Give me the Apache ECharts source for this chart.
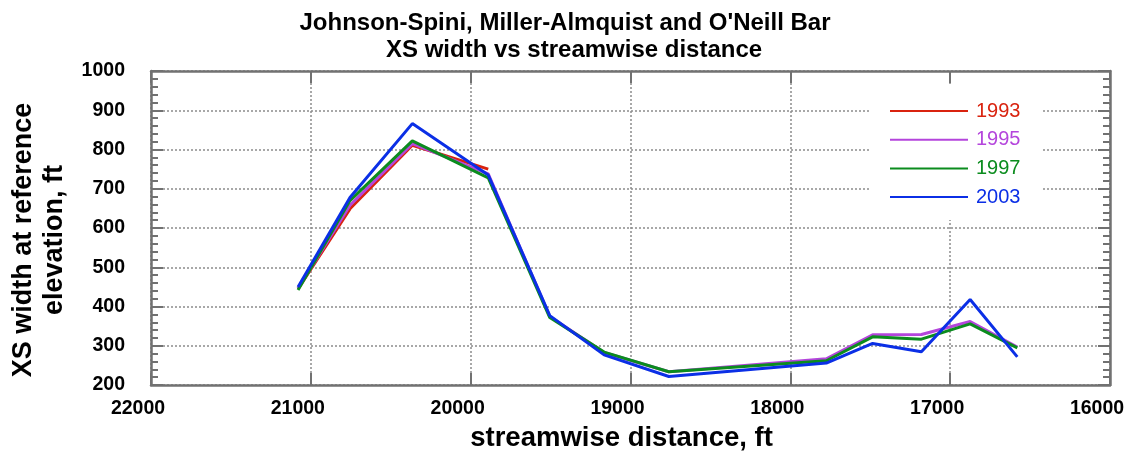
<!DOCTYPE html>
<html>
<head>
<meta charset="utf-8">
<title>XS width vs streamwise distance</title>
<script src="https://cdn.jsdelivr.net/npm/echarts@6/dist/echarts.min.js"></script>
<style>
  html, body { margin: 0; padding: 0; background: #fff; }
  #chart { width: 1130px; height: 457px; }
</style>
</head>
<body>
<div id="chart"></div>
<script>
// Cross-section stations (streamwise distance, ft)
const stations = [21080, 20755, 20365, 19890, 19505, 19165, 18760, 17775, 17485, 17180, 16875, 16580];

// XS width at reference elevation, ft, per survey year
const width1993 = [445, 649, 811, 750];
const width1995 = [446, 658, 815, 738, 375, 283, 234, 267, 328, 329, 362, 297];
const width1997 = [442, 670, 822, 728, 372, 284, 234, 262, 323, 317, 356, 295];
const width2003 = [450, 678, 866, 735, 377, 277, 222, 256, 306, 285, 418, 272];

const years = ['1993', '1995', '1997', '2003'];
const yearColors = ['#d9230f', '#b445dc', '#0b8c1e', '#0b2fe6'];
const yearValues = [width1993, width1995, width1997, width2003];

const xTicks = { min: 16000, max: 22000, step: 1000 };
const yTicks = { min: 200, max: 1000, step: 100 };

const FONT = '"Liberation Sans", Arial, Helvetica, sans-serif';
const FRAME = '#717171';
const GRID = '#8c8c8c';

const frameLine = { show: true, onZero: false, lineStyle: { color: FRAME, width: 2.5 } };
const tickIn = { show: true, inside: true, length: 12, lineStyle: { color: FRAME, width: 2 } };
const minorIn = { show: true, splitNumber: 5, length: 7, lineStyle: { color: FRAME, width: 2 } };
const dotted = { show: true, lineStyle: { color: GRID, width: 1.5, type: [2, 2] } };

const series = years.map((name, i) => ({
  name: name,
  type: 'line',
  xAxisIndex: 0,
  yAxisIndex: 0,
  symbol: 'none',
  color: yearColors[i],
  lineStyle: { color: yearColors[i], width: 3 },
  data: yearValues[i].map((v, k) => [stations[k], v]),
  z: 2 + i
}));

const chart = echarts.init(document.getElementById('chart'), null, { renderer: 'canvas' });
chart.setOption({
  animation: false,
  backgroundColor: '#ffffff',
  textStyle: { fontFamily: FONT },
  title: [
    {
      text: "Johnson-Spini, Miller-Almquist and O'Neill Bar",
      left: 'center', top: 11.5, padding: 0,
      textStyle: { fontFamily: FONT, fontWeight: 'bold', fontSize: 24, lineHeight: 24, color: '#000' }
    },
    {
      text: 'XS width vs streamwise distance',
      left: 386, top: 38.5, padding: 0,
      textStyle: { fontFamily: FONT, fontWeight: 'bold', fontSize: 24, lineHeight: 24, color: '#000' }
    }
  ],
  legend: {
    orient: 'vertical',
    left: 871, top: 84,
    padding: [17, 22, 13, 18],
    backgroundColor: '#ffffff',
    itemWidth: 78, itemHeight: 20, itemGap: 8.7,
    lineStyle: { width: 2 },
    // line-only keys: hide the marker drawn on each key
    itemStyle: { opacity: 0, color: 'transparent', borderWidth: 0 },
    textStyle: { fontFamily: FONT, fontSize: 20, lineHeight: 20, padding: [0, 0, 0, 3] },
    data: years.map((y, i) => ({ name: y, textStyle: { color: yearColors[i] } }))
  },
  grid: { left: 149, right: 20, top: 71, bottom: 68, containLabel: false },
  xAxis: [
    {
      type: 'value', position: 'bottom', inverse: true,
      min: xTicks.min, max: xTicks.max, interval: xTicks.step,
      name: 'streamwise distance, ft', nameLocation: 'middle', nameGap: 38,
      nameTextStyle: { fontFamily: FONT, fontWeight: 'bold', fontSize: 27.5, lineHeight: 28, color: '#000', padding: [0, 18, 0, 0] },
      axisLine: frameLine, axisTick: tickIn, splitLine: dotted,
      axisLabel: {
        show: true, margin: 14, fontFamily: FONT, fontWeight: 'bold', fontSize: 19.5, color: '#000',
        padding: [0, 26, 0, 0], showMinLabel: true, showMaxLabel: true,
        formatter: v => String(v)
      }
    },
    {
      type: 'value', position: 'top', inverse: true,
      min: xTicks.min, max: xTicks.max, interval: xTicks.step,
      axisLine: frameLine, axisTick: tickIn, splitLine: { show: false }, axisLabel: { show: false }
    }
  ],
  yAxis: [
    {
      type: 'value', position: 'left',
      min: yTicks.min, max: yTicks.max, interval: yTicks.step,
      name: 'XS width at reference\nelevation, ft', nameLocation: 'middle', nameGap: 81,
      nameTextStyle: { fontFamily: FONT, fontWeight: 'bold', fontSize: 27, lineHeight: 31, color: '#000', padding: [0, 24, 0, 0] },
      axisLine: frameLine, axisTick: tickIn, minorTick: minorIn, splitLine: dotted,
      axisLabel: {
        show: true, margin: 26, fontFamily: FONT, fontWeight: 'bold', fontSize: 19.5, color: '#000',
        showMinLabel: true, showMaxLabel: true, formatter: v => String(v)
      }
    },
    {
      type: 'value', position: 'right',
      min: yTicks.min, max: yTicks.max, interval: yTicks.step,
      axisLine: frameLine, axisTick: tickIn, minorTick: minorIn, splitLine: { show: false }, axisLabel: { show: false }
    }
  ],
  series: series
});
</script>
</body>
</html>
